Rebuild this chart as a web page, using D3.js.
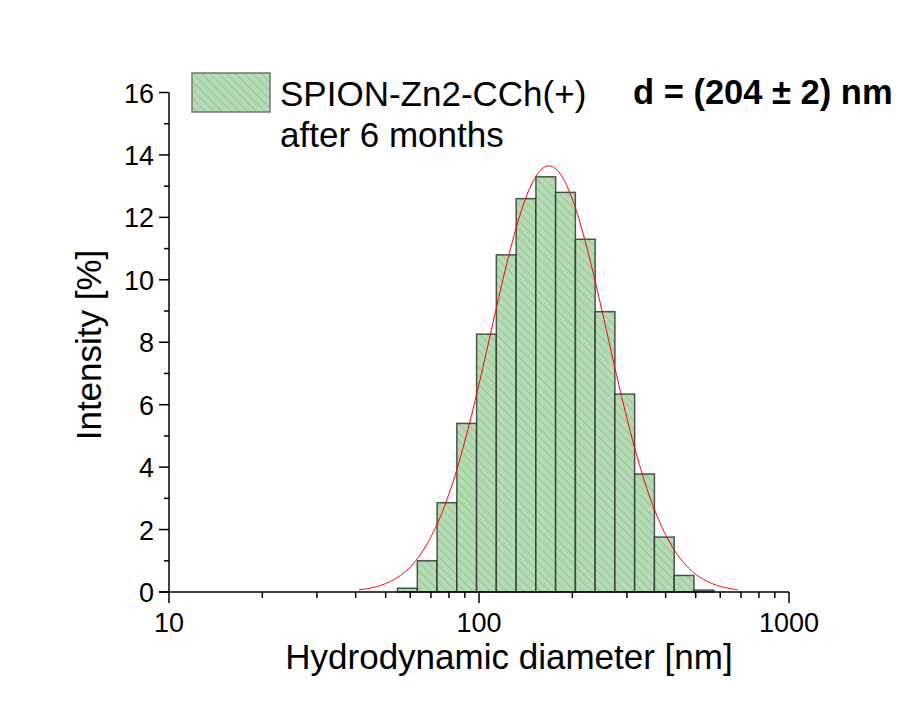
<!DOCTYPE html>
<html>
<head>
<meta charset="utf-8">
<script src="https://cdn.jsdelivr.net/npm/d3@7"></script>
<style>
	body { margin: 0; background: #fff; }
	text { font-family: "Liberation Sans", Arial, sans-serif; fill: #000; }
</style>
</head>
<body>
<svg id="chart" width="904" height="701"></svg>
<script>
// DLS size distribution (Zetasizer size classes, nm) and intensity in %
var sizes = [58.77, 68.06, 78.82, 91.28, 105.7, 122.4, 141.8, 164.2, 190.1, 220.2, 255.0, 295.3, 342.0, 396.1, 458.7, 531.2];
var intensity = [0.12, 1.0, 2.86, 5.4, 8.26, 10.8, 12.6, 13.3, 12.8, 11.3, 8.98, 6.34, 3.78, 1.76, 0.53, 0.06];

// gaussian fit on log axis
var fitCenter = 168;     // nm
var fitSigma = 0.188;    // decades
var fitAmplitude = 13.65;
var fitRange = [41, 684]; // nm, where the red line is drawn

var xTicks = [10, 100, 1000];
var yTicks = [0, 2, 4, 6, 8, 10, 12, 14, 16];
var legendLines = ["SPION-Zn2-CCh(+)", "after 6 months"];
var sizeLabel = "d = (204 \u00b1 2) nm";

var svg = d3.select("#chart");

var x = d3.scaleLog().domain([10, 1000]).range([169, 789]);
var y = d3.scaleLinear().domain([0, 16]).range([592, 92.5]);

// hatch pattern for the bars
var defs = svg.append("defs");
var pat = defs.append("pattern")
		.attr("id", "hatch")
		.attr("patternUnits", "userSpaceOnUse")
		.attr("width", 6)
		.attr("height", 6)
		.attr("patternTransform", "rotate(-45)");
pat.append("rect").attr("width", 6).attr("height", 6).attr("fill", "#b4dbb4");
pat.append("line")
		.attr("x1", 0).attr("y1", 0).attr("x2", 0).attr("y2", 6)
		.attr("stroke", "#6f966f").attr("stroke-width", 1).attr("stroke-opacity", 0.7);

// bin edges: halfway (in log) between neighbouring size classes
var ratio = sizes[1] / sizes[0];
var bins = [];
for(var i = 0; i < sizes.length; i++){
	bins.push({'lo' : sizes[i] / Math.sqrt(ratio), 'hi' : sizes[i] * Math.sqrt(ratio), 'v' : intensity[i]});
}

svg.append("g")
	.selectAll("rect")
	.data(bins)
	.enter().append("rect")
		.attr("x", function(d){ return x(d.lo); })
		.attr("width", function(d){ return x(d.hi) - x(d.lo); })
		.attr("y", function(d){ return y(d.v); })
		.attr("height", function(d){ return y(0) - y(d.v); })
		.attr("fill", "url(#hatch)")
		.attr("stroke", "#243024")
		.attr("stroke-opacity", 0.8)
		.attr("stroke-width", 1.5);

// fitted curve
var fitPts = [];
var u0 = Math.log10(fitCenter);
var uA = Math.log10(fitRange[0]), uB = Math.log10(fitRange[1]);
for(var u = uA; u <= uB + 1e-9; u += (uB - uA) / 300){
	var val = fitAmplitude * Math.exp(-Math.pow(u - u0, 2) / (2 * fitSigma * fitSigma));
	fitPts.push([Math.pow(10, u), val]);
}
svg.append("path")
	.datum(fitPts)
	.attr("fill", "none")
	.attr("stroke", "#ff0000")
	.attr("stroke-width", 1)
	.attr("d", d3.line()
		.x(function(d){ return x(d[0]); })
		.y(function(d){ return y(d[1]); }));

// x axis, log with minor ticks
var xMinor = [];
[10, 100].forEach(function(dec){
	for(var k = 2; k <= 9; k++) xMinor.push(dec * k);
});
var gx = svg.append("g").attr("transform", "translate(0," + y(0) + ")");
gx.append("line").attr("x1", 159).attr("x2", x(1000)).attr("stroke", "#000").attr("stroke-width", 1.5);
gx.selectAll(".minor").data(xMinor).enter().append("line")
	.attr("x1", function(d){ return x(d); }).attr("x2", function(d){ return x(d); })
	.attr("y1", 0).attr("y2", 6)
	.attr("stroke", "#000").attr("stroke-width", 1.5);
gx.selectAll(".major").data(xTicks).enter().append("line")
	.attr("x1", function(d){ return x(d); }).attr("x2", function(d){ return x(d); })
	.attr("y1", 0).attr("y2", 11)
	.attr("stroke", "#000").attr("stroke-width", 1.5);
gx.selectAll("text").data(xTicks).enter().append("text")
	.attr("x", function(d){ return x(d); })
	.attr("y", 40)
	.attr("text-anchor", "middle")
	.attr("font-size", 27)
	.text(function(d){ return d; });

// y axis
var yMinor = d3.range(1, 16, 2);
var gy = svg.append("g").attr("transform", "translate(" + x(10) + ",0)");
gy.append("line").attr("y1", y(0)).attr("y2", y(16)).attr("stroke", "#000").attr("stroke-width", 1.5);
gy.selectAll(".minor").data(yMinor).enter().append("line")
	.attr("y1", function(d){ return y(d); }).attr("y2", function(d){ return y(d); })
	.attr("x1", 0).attr("x2", -5)
	.attr("stroke", "#000").attr("stroke-width", 1.5);
gy.selectAll(".major").data(yTicks).enter().append("line")
	.attr("y1", function(d){ return y(d); }).attr("y2", function(d){ return y(d); })
	.attr("x1", 0).attr("x2", -10)
	.attr("stroke", "#000").attr("stroke-width", 1.5);
gy.selectAll("text").data(yTicks).enter().append("text")
	.attr("x", -15)
	.attr("y", function(d){ return y(d) + 10; })
	.attr("text-anchor", "end")
	.attr("font-size", 27)
	.text(function(d){ return d; });

// axis titles
svg.append("text")
	.attr("x", 509).attr("y", 669)
	.attr("text-anchor", "middle")
	.attr("font-size", 35)
	.text("Hydrodynamic diameter [nm]");
svg.append("text")
	.attr("transform", "translate(101,345) rotate(-90)")
	.attr("text-anchor", "middle")
	.attr("font-size", 35)
	.text("Intensity [%]");

// legend
svg.append("rect")
	.attr("x", 192).attr("y", 73).attr("width", 78).attr("height", 39)
	.attr("fill", "url(#hatch)")
	.attr("stroke", "#6a7a6a").attr("stroke-width", 1.5);
svg.selectAll(".leg").data(legendLines).enter().append("text")
	.attr("x", 280)
	.attr("y", function(d, i){ return 106 + i * 41; })
	.attr("font-size", 35)
	.text(function(d){ return d; });

svg.append("text")
	.attr("x", 633).attr("y", 104)
	.attr("font-size", 34.5)
	.attr("font-weight", "bold")
	.text(sizeLabel);
</script>
</body>
</html>
